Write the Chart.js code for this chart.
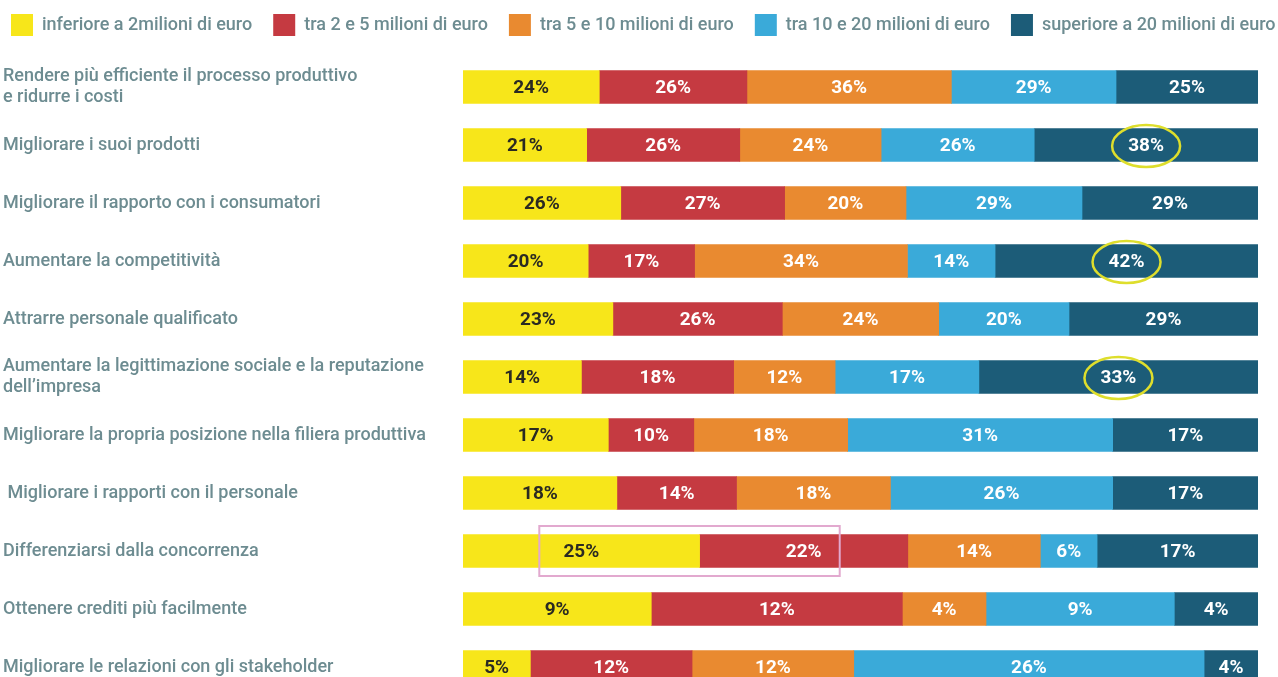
<!DOCTYPE html>
<html>
<head>
<meta charset="utf-8">
<script src="https://cdn.jsdelivr.net/npm/chart.js@4/dist/chart.umd.min.js"></script>
<style>
  html, body { margin: 0; padding: 0; background: #fff; overflow: hidden; }
  #wrap { position: relative; width: 1278px; height: 700px; }
</style>
</head>
<body>
<div id="wrap"><canvas id="chartCanvas"></canvas></div>
<script>
const categories = [
  ["Rendere più efficiente il processo produttivo", "e ridurre i costi"],
  "Migliorare i suoi prodotti",
  "Migliorare il rapporto con i consumatori",
  "Aumentare la competitività",
  "Attrarre personale qualificato",
  ["Aumentare la legittimazione sociale e la reputazione", "dell’impresa"],
  "Migliorare la propria posizione nella filiera produttiva",
  " Migliorare i rapporti con il personale",
  "Differenziarsi dalla concorrenza",
  "Ottenere crediti più facilmente",
  "Migliorare le relazioni con gli stakeholder"
];

const seriesNames = [
  "inferiore a 2milioni di euro",
  "tra 2 e 5 milioni di euro",
  "tra 5 e 10 milioni di euro",
  "tra 10 e 20 milioni di euro",
  "superiore a 20 milioni di euro"
];

const under2    = [24, 21, 26, 20, 23, 14, 17, 18, 25,  9,  5];
const from2to5  = [26, 26, 27, 17, 26, 18, 10, 14, 22, 12, 12];
const from5to10 = [36, 24, 20, 34, 24, 12, 18, 18, 14,  4, 12];
const from10to20 = [29, 26, 29, 14, 20, 17, 31, 26,  6,  9, 26];
const over20    = [25, 38, 29, 42, 29, 33, 17, 17, 17,  4,  4];

const colors = ["#f7e61a", "#c53a41", "#e98a30", "#3aaad9", "#1c5c78"];
const textColors = ["#2a2a22", "#fff", "#fff", "#fff", "#fff"];

// circled values: [series, row]
const circled = [[4, 1], [4, 3], [4, 5]];
// boxed pair of values in one row
const boxedRow = 8;

const raw = [under2, from2to5, from5to10, from10to20, over20];
const rowTotals = categories.map((_, i) => raw.reduce((s, arr) => s + arr[i], 0));

// each row is spread over the full width, segments sized by their share of the row
const datasets = raw.map((arr, k) => ({
  label: seriesNames[k],
  data: arr.map((v, i) => v / rowTotals[i] * 100),
  rawValues: arr,
  backgroundColor: colors[k],
  borderWidth: 0,
  barThickness: 33
}));

const valueLabels = {
  id: "valueLabels",
  afterDatasetsDraw(chart) {
    const ctx = chart.ctx;
    ctx.save();
    ctx.font = "bold 19px Roboto";
    ctx.textAlign = "center";
    ctx.textBaseline = "middle";
    chart.data.datasets.forEach((ds, k) => {
      chart.getDatasetMeta(k).data.forEach((bar, i) => {
        ctx.fillStyle = textColors[k];
        ctx.fillText(ds.rawValues[i] + "%", (bar.base + bar.x) / 2, bar.y + 1);
      });
    });

    // yellow rings
    ctx.strokeStyle = "#dede2c";
    ctx.lineWidth = 2.5;
    circled.forEach(([k, i]) => {
      const bar = chart.getDatasetMeta(k).data[i];
      const cx = (bar.base + bar.x) / 2;
      ctx.beginPath();
      ctx.ellipse(cx, bar.y + 1, 34, 21, 0, 0, Math.PI * 2);
      ctx.stroke();
    });

    // pink frame around the first two values
    const a = chart.getDatasetMeta(0).data[boxedRow];
    const b = chart.getDatasetMeta(1).data[boxedRow];
    const x1 = (a.base + a.x) / 2 - 42;
    const x2 = (b.base + b.x) / 2 + 36;
    ctx.strokeStyle = "#e2a9cf";
    ctx.lineWidth = 2;
    ctx.strokeRect(x1, a.y - 25, x2 - x1, 50);
    ctx.restore();
  }
};

// keep the legend on one line across the whole page width
const legendRow = {
  id: "legendRow",
  beforeInit(chart) {
    const fit = chart.legend.fit;
    chart.legend.fit = function () {
      const mw = this.maxWidth;
      this.maxWidth = 5000;
      fit.call(this);
      this.maxWidth = mw;
      this.width = mw;
      this.height += 12;
    };
  },
  afterLayout(chart) {
    chart.legend.left = -10;
    chart.legend.right = 2000;
  }
};

new Chart(document.getElementById("chartCanvas"), {
  type: "bar",
  data: { labels: categories, datasets: datasets },
  options: {
    indexAxis: "y",
    responsive: true,
    maintainAspectRatio: false,
    animation: false,
    layout: { padding: { left: 3, right: 20, top: -7, bottom: 4 } },
    plugins: {
      legend: {
        position: "top",
        align: "start",
        labels: {
          boxWidth: 22,
          boxHeight: 22,
          padding: 21,
          color: "#6d8c91",
          font: { family: "Roboto", size: 18, weight: "500" }
        }
      },
      tooltip: { enabled: false }
    },
    scales: {
      x: {
        stacked: true,
        min: 0,
        max: 100,
        display: false
      },
      y: {
        stacked: true,
        grid: { display: false },
        border: { display: false },
        ticks: {
          crossAlign: "far",
          color: "#6d8c91",
          font: { family: "Roboto", size: 18, weight: "500", lineHeight: 1.2 }
        },
        afterFit(scale) {
          scale.width = 460;
          scale.paddingTop = 0;
          scale.paddingBottom = 0;
        }
      }
    }
  },
  plugins: [valueLabels, legendRow]
});
</script>
</body>
</html>
